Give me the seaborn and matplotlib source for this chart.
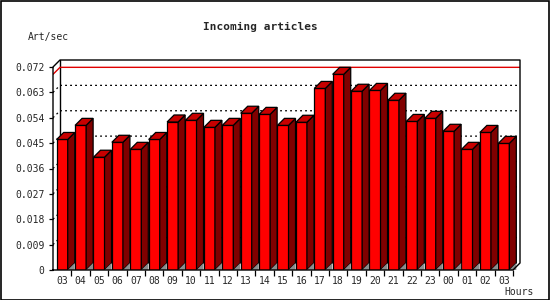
import matplotlib
matplotlib.use("Agg")
import matplotlib.pyplot as plt
import seaborn as sns
import numpy as np
from matplotlib.patches import Polygon, Rectangle

hours = ["03", "04", "05", "06", "07", "08", "09", "10", "11", "12", "13", "14", "15",
         "16", "17", "18", "19", "20", "21", "22", "23", "00", "01", "02", "03"]
values = [0.0463, 0.0513, 0.0400, 0.0453, 0.0428, 0.0463, 0.0525, 0.0531, 0.0506, 0.0513,
          0.0556, 0.0552, 0.0513, 0.0524, 0.0644, 0.0694, 0.0634, 0.0637, 0.0602, 0.0527,
          0.0538, 0.0492, 0.0428, 0.0488, 0.0449]
yticks = [0, 0.009, 0.018, 0.027, 0.036, 0.045, 0.054, 0.063, 0.072]
ytick_labels = ["0", "0.009", "0.018", "0.027", "0.036", "0.045", "0.054", "0.063", "0.072"]

sns.set_theme(style="white")
plt.rcParams['font.family'] = ['DejaVu Sans Mono', 'DejaVu Sans']

W, H = 550, 300
fig = plt.figure(figsize=(5.5, 3.0), dpi=100)
fig.patch.set_facecolor("white")

# axes geometry in pixels
ax_left, ax_bottom, ax_w, ax_h = 53, 30, 467, 210
ax = fig.add_axes([ax_left / W, ax_bottom / H, ax_w / W, ax_h / H])
ax.set_facecolor("white")

n = len(values)
px_per_cat = 18.4
depth = 7.0
dx = depth / px_per_cat
xmin = -0.5
xmax = xmin + ax_w / px_per_cat
yfront = 0.072
ytop = yfront * ax_h / 203.0
dy = depth * yfront / 203.0

sns.barplot(x=list(range(n)), y=values, color="#FF0000", saturation=1, width=0.6,
            edgecolor="black", linewidth=0.9, ax=ax, zorder=5)

for p in list(ax.patches):
    x0, w, h = p.get_x(), p.get_width(), p.get_height()
    top = Polygon([(x0, h), (x0 + dx, h + dy), (x0 + w + dx, h + dy), (x0 + w, h)],
                  closed=True, facecolor="#C80000", edgecolor="black", linewidth=0.9, zorder=5)
    side = Polygon([(x0 + w, 0), (x0 + w, h), (x0 + w + dx, h + dy), (x0 + w + dx, dy)],
                   closed=True, facecolor="#800000", edgecolor="black", linewidth=0.9, zorder=5)
    shadow = Polygon([(x0 + w, 0), (x0 + w + dx, dy), (x0 + w + dx, 0)],
                     closed=True, facecolor="#8C8C8C", edgecolor="none", zorder=5)
    ax.add_patch(side)
    ax.add_patch(top)
    ax.add_patch(shadow)

ax.set_xlim(xmin, xmax)
ax.set_ylim(0, ytop)

# back-wall dotted gridlines
for v in yticks[1:-1]:
    ax.plot([xmin, xmin + dx, xmax], [v, v + dy, v + dy], color="black",
            linewidth=0.9, linestyle=(0, (1.5, 2.5)), zorder=1)

# red line at maximum
vmax = max(values)
ax.plot([xmin, xmin + dx, xmax], [vmax, vmax + dy, vmax + dy], color="#E00000",
        linewidth=1.0, zorder=2)

# 3D frame
lk = dict(color="black", linewidth=1.0, zorder=6, solid_capstyle="projecting")
ax.plot([xmin, xmin, xmin + dx, xmax, xmax, xmax - dx, xmin],
        [0, yfront, ytop, ytop, dy, 0, 0], clip_on=False, **lk)
ax.plot([xmin + dx, xmin + dx], [dy, ytop], color="black", linewidth=1.0, zorder=1)
for s in ax.spines.values():
    s.set_visible(False)

# ticks
ax.set_yticks(yticks)
ax.set_yticklabels(ytick_labels, fontsize=7)
ax.set_xticks(range(n))
ax.set_xticklabels(hours, fontsize=7)
ax.set_xticks(np.arange(n) + 0.5, minor=True)
ax.tick_params(axis="x", which="major", length=0, pad=4)
ax.tick_params(axis="x", which="minor", length=4, width=0.9, color="black", direction="out", bottom=True)
ax.tick_params(axis="y", which="major", length=3, width=0.9, color="black", direction="out",
               left=True, pad=3)
ax.set_xlabel("")
ax.set_ylabel("")

fig.text(260 / W, 1 - 27 / H, "Incoming articles", ha="center", va="center",
         fontsize=8, fontweight="bold")
fig.text(28 / W, 1 - 37 / H, "Art/sec", ha="left", va="center", fontsize=7)
fig.text(534 / W, 1 - 292 / H, "Hours", ha="right", va="center", fontsize=7)

fig.patches.append(Rectangle((0.5 / W, 0.5 / H), 1 - 1.5 / W, 1 - 1.5 / H,
                             transform=fig.transFigure, fill=False,
                             edgecolor="black", linewidth=1.2))

fig.savefig("out.png", dpi=100, facecolor="white")
